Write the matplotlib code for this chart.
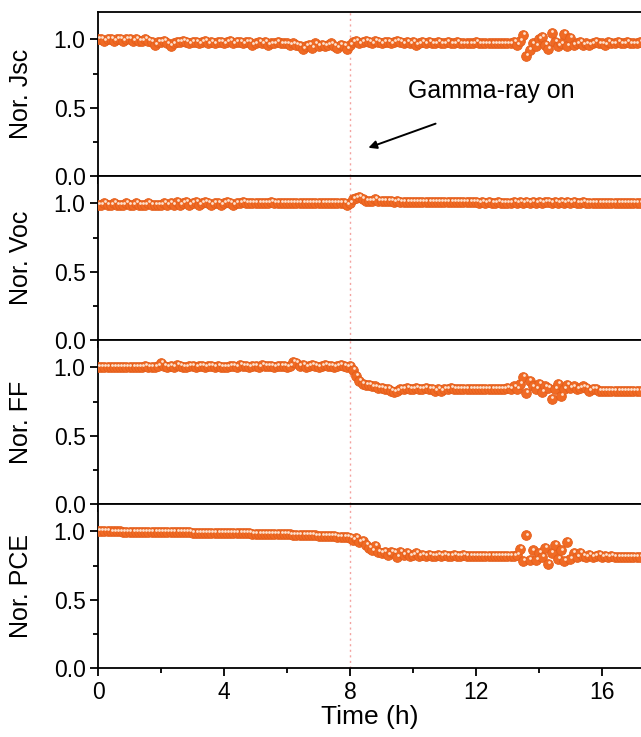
import numpy as np
import matplotlib
matplotlib.use("Agg")
import matplotlib.pyplot as plt
import matplotlib.transforms as mtransforms
from matplotlib.ticker import MultipleLocator

# normalised device parameters, one sample every 0.1 h (rows = 1 h)
jsc = [
    1.00, 1.00, 0.99, 1.00, 1.00, 0.99, 1.00, 1.00, 0.99, 1.00,
    1.00, 0.99, 1.00, 0.99, 0.99, 1.00, 0.99, 0.98, 0.96, 0.98,
    0.98, 0.99, 0.97, 0.95, 0.97, 0.98, 0.98, 0.99, 0.98, 0.97,
    0.98, 0.98, 0.97, 0.98, 0.99, 0.97, 0.98, 0.97, 0.98, 0.98,
    0.97, 0.98, 0.99, 0.97, 0.98, 0.98, 0.97, 0.98, 0.98, 0.96,
    0.97, 0.98, 0.97, 0.98, 0.96, 0.97, 0.97, 0.98, 0.97, 0.97,
    0.97, 0.96, 0.97, 0.96, 0.95, 0.93, 0.95, 0.96, 0.94, 0.97,
    0.95, 0.96, 0.95, 0.96, 0.97, 0.95, 0.94, 0.96, 0.95, 0.93,
    0.96, 0.98, 0.99, 0.97, 0.98, 0.99, 0.98, 0.97, 0.99, 0.98,
    0.97, 0.98, 0.98, 0.97, 0.98, 0.99, 0.98, 0.97, 0.98, 0.97,
    0.98, 0.96, 0.97, 0.98, 0.97, 0.98, 0.97, 0.97, 0.98, 0.97,
    0.97, 0.98, 0.97, 0.97, 0.98, 0.97, 0.97, 0.97, 0.97, 0.97,
    0.98, 0.97, 0.97, 0.97, 0.97, 0.97, 0.97, 0.97, 0.97, 0.97,
    0.97, 0.97, 0.98, 0.96, 0.99, 1.03, 0.88, 0.92, 0.97, 0.95,
    1.00, 1.02, 0.96, 0.93, 1.05, 0.98, 0.95, 0.97, 1.04, 0.95,
    1.01, 0.96, 0.97, 0.98, 0.96, 0.97, 0.96, 0.97, 0.98, 0.97,
    0.97, 0.96, 0.98, 0.97, 0.97, 0.98, 0.97, 0.97, 0.98, 0.97,
    0.97, 0.97, 0.98,
]
voc = [
    0.99, 0.99, 1.00, 0.99, 0.99, 1.00, 0.99, 0.99, 0.99, 1.00,
    0.99, 0.99, 1.00, 0.99, 0.99, 0.99, 1.00, 0.99, 0.99, 0.99,
    0.99, 1.00, 0.99, 1.00, 0.99, 1.01, 0.99, 1.00, 1.01, 0.99,
    1.00, 1.01, 0.99, 1.00, 1.01, 1.00, 0.99, 1.00, 1.00, 0.99,
    1.00, 1.01, 1.00, 0.99, 1.00, 1.00, 1.01, 1.00, 1.00, 1.00,
    1.00, 1.00, 1.00, 1.00, 1.00, 1.01, 1.00, 1.00, 1.00, 1.00,
    1.00, 1.00, 1.00, 1.00, 1.00, 1.00, 1.00, 1.00, 1.00, 1.00,
    1.00, 1.00, 1.00, 1.00, 1.00, 1.00, 1.00, 1.00, 1.00, 0.99,
    1.00, 1.03, 1.04, 1.05, 1.03, 1.02, 1.02, 1.02, 1.03, 1.02,
    1.02, 1.02, 1.02, 1.02, 1.01, 1.02, 1.01, 1.01, 1.01, 1.01,
    1.01, 1.01, 1.01, 1.01, 1.01, 1.01, 1.01, 1.01, 1.01, 1.01,
    1.01, 1.01, 1.01, 1.01, 1.01, 1.01, 1.01, 1.01, 1.01, 1.01,
    1.01, 1.00, 1.01, 1.00, 1.01, 1.00, 1.00, 1.01, 1.00, 1.00,
    1.00, 1.00, 1.01, 1.00, 1.01, 1.00, 1.01, 1.00, 1.01, 1.00,
    1.01, 1.00, 1.01, 1.01, 1.00, 1.01, 1.00, 1.01, 1.00, 1.01,
    1.00, 1.01, 1.00, 1.00, 1.01, 1.00, 1.00, 1.00, 1.00, 1.00,
    1.00, 1.00, 1.00, 1.00, 1.00, 1.00, 1.00, 1.00, 1.00, 1.00,
    1.00, 1.00, 1.00,
]
ff = [
    1.00, 1.00, 1.00, 1.00, 1.00, 1.00, 1.00, 1.00, 1.00, 1.00,
    1.00, 1.00, 1.00, 1.00, 1.00, 1.01, 1.00, 1.00, 1.00, 1.01,
    1.03, 1.01, 1.00, 1.01, 1.00, 1.02, 1.01, 1.00, 1.00, 1.01,
    1.01, 1.00, 1.01, 1.01, 1.00, 1.01, 1.01, 1.00, 1.01, 1.00,
    1.00, 1.00, 1.01, 1.01, 1.00, 1.02, 1.01, 1.01, 1.00, 1.01,
    1.01, 1.00, 1.02, 1.01, 1.01, 1.01, 1.00, 1.01, 1.01, 1.01,
    1.00, 1.01, 1.04, 1.03, 1.01, 1.02, 1.00, 1.01, 1.02, 1.01,
    1.00, 1.01, 1.02, 1.01, 1.01, 1.00, 1.01, 1.02, 1.01, 1.00,
    1.01, 0.98, 0.94, 0.90, 0.88, 0.87, 0.87, 0.86, 0.86, 0.85,
    0.85, 0.84, 0.84, 0.83, 0.82, 0.83, 0.84, 0.84, 0.85, 0.84,
    0.84, 0.85, 0.84, 0.84, 0.85, 0.84, 0.84, 0.83, 0.84, 0.83,
    0.84, 0.84, 0.85, 0.84, 0.84, 0.84, 0.84, 0.84, 0.84, 0.84,
    0.84, 0.84, 0.84, 0.84, 0.84, 0.84, 0.84, 0.84, 0.84, 0.84,
    0.85, 0.84, 0.86, 0.84, 0.88, 0.93, 0.81, 0.90, 0.86, 0.84,
    0.88, 0.82, 0.86, 0.85, 0.77, 0.84, 0.88, 0.79, 0.84, 0.87,
    0.85, 0.86, 0.84, 0.85, 0.86, 0.85, 0.83, 0.84, 0.84, 0.83,
    0.83, 0.83, 0.83, 0.83, 0.83, 0.83, 0.83, 0.83, 0.83, 0.83,
    0.83, 0.83, 0.83,
]
pce = [
    1.000, 1.000, 1.000, 1.000, 0.999, 0.999, 0.999, 0.999, 0.998, 0.998,
    0.998, 0.998, 0.997, 0.997, 0.997, 0.996, 0.996, 0.996, 0.995, 0.995,
    0.995, 0.994, 0.994, 0.994, 0.993, 0.993, 0.993, 0.992, 0.992, 0.992,
    0.991, 0.991, 0.991, 0.990, 0.990, 0.990, 0.989, 0.989, 0.989, 0.988,
    0.988, 0.988, 0.987, 0.987, 0.986, 0.986, 0.986, 0.985, 0.985, 0.984,
    0.984, 0.983, 0.983, 0.982, 0.982, 0.981, 0.980, 0.980, 0.979, 0.978,
    0.978, 0.977, 0.976, 0.975, 0.975, 0.974, 0.973, 0.972, 0.971, 0.970,
    0.969, 0.968, 0.967, 0.966, 0.965, 0.963, 0.962, 0.960, 0.958, 0.956,
    0.950, 0.940, 0.950, 0.920, 0.930, 0.900, 0.880, 0.860, 0.890, 0.850,
    0.840, 0.850, 0.830, 0.850, 0.840, 0.810, 0.850, 0.830, 0.840, 0.820,
    0.830, 0.840, 0.820, 0.830, 0.820, 0.830, 0.820, 0.820, 0.830, 0.820,
    0.830, 0.820, 0.820, 0.830, 0.820, 0.820, 0.830, 0.820, 0.820, 0.820,
    0.820, 0.820, 0.820, 0.820, 0.820, 0.820, 0.820, 0.820, 0.820, 0.820,
    0.820, 0.820, 0.820, 0.830, 0.870, 0.780, 0.970, 0.790, 0.860, 0.790,
    0.840, 0.810, 0.880, 0.760, 0.840, 0.900, 0.800, 0.860, 0.780, 0.920,
    0.800, 0.840, 0.810, 0.840, 0.820, 0.810, 0.830, 0.810, 0.820, 0.830,
    0.810, 0.820, 0.810, 0.820, 0.810, 0.810, 0.810, 0.810, 0.810, 0.810,
    0.810, 0.810, 0.810,
]
panels = [("Nor. Jsc", jsc), ("Nor. Voc", voc), ("Nor. FF", ff), ("Nor. PCE", pce)]
time_h = np.arange(len(jsc)) * 0.1
gamma_on = 8.0

plt.rcParams['font.family'] = ['Liberation Sans', 'DejaVu Sans']
orange = '#f06a24'

fig = plt.figure(figsize=(6.41, 7.37), dpi=100)
left, right = 0.153, 1.0
bottom, top = 0.0936, 0.9837
h = (top - bottom) / 4

axes = []
for i, (label, vals) in enumerate(panels):
    ax = fig.add_axes([left, top - (i + 1) * h, right - left, h])
    axes.append(ax)
    ax.axvline(gamma_on, color='#f3a3a0', lw=1.0, ls=(0, (1.5, 2.5)), zorder=1)
    ax.plot(time_h, vals, 'o', ms=7.0, mfc=orange, mec='#e45d1a', mew=0.6, zorder=3)
    # little highlight to mimic the shaded sphere markers
    hl = mtransforms.offset_copy(ax.transData, fig=fig, x=0.6, y=1.4, units='points')
    ax.plot(time_h, vals, 'o', ms=2.0, mfc='#fde2cf', mec='none', transform=hl, zorder=4)

    ax.set_xlim(0, 17.24)
    ax.set_ylim(0, 1.2)
    ax.yaxis.set_major_locator(MultipleLocator(0.5))
    ax.yaxis.set_minor_locator(MultipleLocator(0.25))
    ax.xaxis.set_major_locator(MultipleLocator(4))
    ax.xaxis.set_minor_locator(MultipleLocator(2))
    ax.spines['right'].set_visible(False)
    for s in ax.spines.values():
        s.set_linewidth(1.3)
    ax.tick_params(which='major', direction='out', length=6, width=1.3, labelsize=16.5, pad=3)
    ax.tick_params(which='minor', direction='out', length=3.5, width=1.3)
    ax.set_ylabel(label, fontsize=18)
    ax.yaxis.set_label_coords(-0.12, 0.5)
    if i < 3:
        ax.tick_params(axis='x', labelbottom=False)

axes[-1].set_xlabel("Time (h)", fontsize=19, labelpad=1)

axes[0].annotate("", xy=(8.5, 0.20), xytext=(10.8, 0.39),
                 arrowprops=dict(arrowstyle='-|>', color='black', lw=1.4,
                                 mutation_scale=12))
axes[0].text(12.5, 0.62, "Gamma-ray on", fontsize=18, ha='center', va='center')

fig.savefig("out.png", dpi=100)
